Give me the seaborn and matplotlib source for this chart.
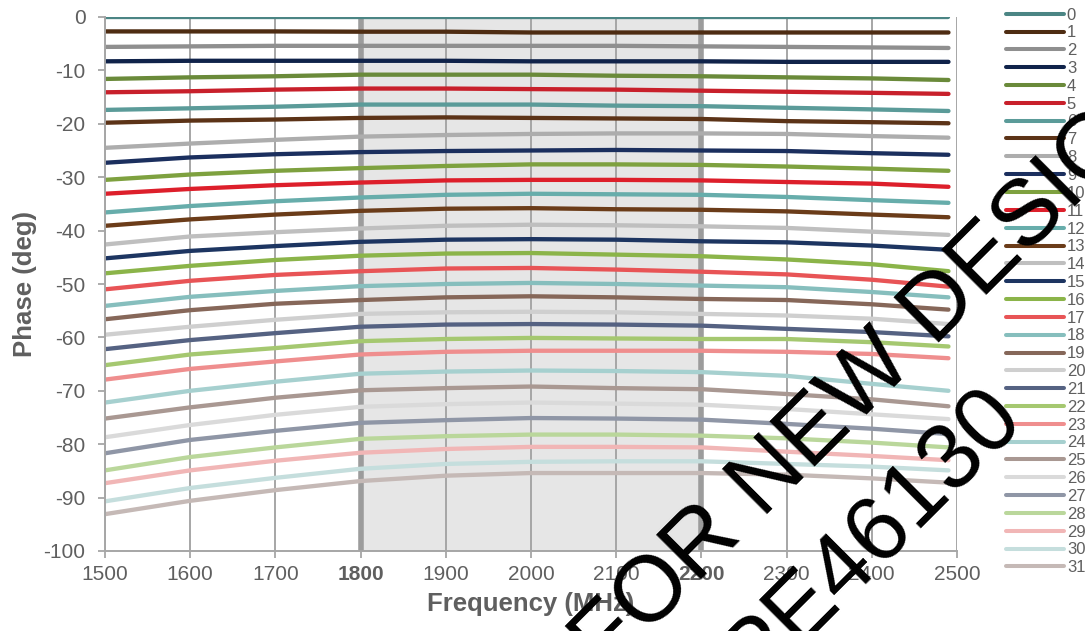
import matplotlib
matplotlib.use("Agg")
import matplotlib.pyplot as plt
import pandas as pd
import seaborn as sns

# ---------------- data ----------------
freq = [1500, 1600, 1700, 1800, 1900, 2000, 2100, 2200, 2300, 2400, 2490]

state_0 = [0.0, 0.0, 0.0, 0.0, 0.0, 0.0, 0.0, 0.0, 0.0, 0.0, 0.0]
state_1 = [-2.7, -2.7, -2.7, -2.75, -2.75, -2.9, -2.9, -2.9, -2.9, -2.9, -2.9]
state_2 = [-5.6, -5.5, -5.4, -5.4, -5.4, -5.4, -5.4, -5.5, -5.6, -5.7, -5.8]
state_3 = [-8.3, -8.2, -8.2, -8.2, -8.2, -8.3, -8.3, -8.3, -8.4, -8.4, -8.4]
state_4 = [-11.6, -11.3, -11.1, -10.8, -10.8, -10.8, -11.0, -11.1, -11.3, -11.5, -11.8]
state_5 = [-14.1, -13.9, -13.6, -13.4, -13.4, -13.5, -13.6, -13.8, -14.0, -14.2, -14.4]
state_6 = [-17.4, -17.1, -16.8, -16.4, -16.4, -16.4, -16.6, -16.7, -17.0, -17.3, -17.6]
state_7 = [-19.8, -19.4, -19.2, -18.9, -18.8, -18.9, -19.0, -19.1, -19.5, -19.7, -19.9]
state_8 = [-24.5, -23.7, -23.0, -22.4, -22.1, -21.9, -21.8, -21.8, -21.9, -22.3, -22.6]
state_9 = [-27.3, -26.3, -25.7, -25.3, -25.1, -25.0, -24.9, -25.0, -25.1, -25.5, -25.8]
state_10 = [-30.5, -29.5, -28.8, -28.3, -27.9, -27.6, -27.6, -27.7, -28.0, -28.4, -28.8]
state_11 = [-33.1, -32.2, -31.5, -31.0, -30.6, -30.5, -30.5, -30.6, -30.9, -31.2, -31.8]
state_12 = [-36.6, -35.4, -34.5, -33.8, -33.3, -33.1, -33.2, -33.3, -33.7, -34.3, -34.8]
state_13 = [-39.1, -37.9, -37.0, -36.3, -35.9, -35.8, -36.0, -36.1, -36.4, -37.0, -37.5]
state_14 = [-42.6, -41.1, -40.3, -39.6, -39.1, -38.9, -39.0, -39.2, -39.5, -40.2, -40.8]
state_15 = [-45.2, -43.8, -42.9, -42.1, -41.7, -41.6, -41.7, -42.0, -42.2, -42.8, -43.6]
state_16 = [-48.0, -46.6, -45.5, -44.7, -44.3, -44.2, -44.5, -44.8, -45.4, -46.3, -47.6]
state_17 = [-51.0, -49.4, -48.3, -47.6, -47.1, -47.0, -47.3, -47.7, -48.2, -49.2, -50.5]
state_18 = [-54.1, -52.4, -51.3, -50.4, -50.0, -49.8, -50.0, -50.3, -50.6, -51.5, -52.5]
state_19 = [-56.6, -54.9, -53.7, -53.0, -52.5, -52.3, -52.5, -52.8, -53.0, -53.8, -54.8]
state_20 = [-59.5, -58.0, -56.7, -55.6, -55.3, -55.2, -55.3, -55.6, -55.9, -56.5, -57.5]
state_21 = [-62.2, -60.5, -59.2, -58.0, -57.6, -57.5, -57.6, -57.8, -58.4, -59.0, -59.8]
state_22 = [-65.2, -63.2, -62.0, -60.7, -60.3, -60.1, -60.2, -60.3, -60.3, -60.9, -61.7]
state_23 = [-67.9, -65.9, -64.5, -63.2, -62.7, -62.5, -62.5, -62.5, -62.7, -63.1, -63.9]
state_24 = [-72.2, -70.0, -68.3, -66.8, -66.4, -66.2, -66.3, -66.5, -67.2, -68.7, -70.0]
state_25 = [-75.2, -73.1, -71.3, -69.9, -69.5, -69.2, -69.5, -69.7, -70.6, -71.6, -72.9]
state_26 = [-78.7, -76.4, -74.5, -73.0, -72.5, -72.2, -72.4, -72.6, -73.4, -74.4, -75.3]
state_27 = [-81.7, -79.2, -77.5, -76.0, -75.5, -75.1, -75.2, -75.4, -76.2, -77.1, -78.1]
state_28 = [-84.9, -82.4, -80.6, -79.0, -78.5, -78.2, -78.2, -78.4, -78.9, -79.7, -80.6]
state_29 = [-87.3, -84.9, -83.1, -81.6, -80.9, -80.5, -80.5, -80.6, -81.4, -82.2, -83.0]
state_30 = [-90.7, -88.2, -86.3, -84.6, -83.7, -83.3, -83.2, -83.2, -83.7, -84.2, -84.9]
state_31 = [-93.1, -90.6, -88.6, -86.9, -85.9, -85.4, -85.4, -85.4, -85.7, -86.4, -87.2]

states = [state_0, state_1, state_2, state_3, state_4, state_5, state_6, state_7,
          state_8, state_9, state_10, state_11, state_12, state_13, state_14, state_15,
          state_16, state_17, state_18, state_19, state_20, state_21, state_22, state_23,
          state_24, state_25, state_26, state_27, state_28, state_29, state_30, state_31]
state_labels = [str(i) for i in range(32)]

colors = ["#4B8584", "#4E2C12", "#8F8F8F", "#10234A", "#6A8A3A", "#C8202B", "#5B9B99", "#5C3317",
          "#ADADAD", "#1B2F5E", "#7EA13F", "#DD1F2B", "#67ADAB", "#6B3C19", "#BFBFBF", "#1D3561",
          "#8BB449", "#E85456", "#86BEBD", "#866759", "#CFCFCF", "#556282", "#A5C870", "#EF8E8E",
          "#A6D0CF", "#A99892", "#DADADA", "#8F96A6", "#BAD79B", "#F1B6B6", "#C5DEDD", "#C5B9B6"]

x_ticks = [1500, 1600, 1700, 1800, 1900, 2000, 2100, 2200, 2300, 2400, 2500]
y_ticks = [0, -10, -20, -30, -40, -50, -60, -70, -80, -90, -100]
band = [1800, 2200]

rows = []
for lab, vals in zip(state_labels, states):
    for f, v in zip(freq, vals):
        rows.append({"freq": f, "phase": v, "state": lab})
df = pd.DataFrame(rows)

# ---------------- style ----------------
sns.set_style("white")
plt.rcParams["font.family"] = ["Liberation Sans", "DejaVu Sans"]
grey_txt = "#5F5F5F"
grey_line = "#A6A6A6"

fig = plt.figure(figsize=(10.85, 6.31), dpi=100)
W, H = 1085, 631
ax = fig.add_axes([105 / W, 1 - 551 / H, 852 / W, 534 / H])

ax.axvspan(band[0], band[1], color="#E6E6E6", zorder=0.2, lw=0)

sns.lineplot(data=df, x="freq", y="phase", hue="state", hue_order=state_labels,
             palette=dict(zip(state_labels, colors)), linewidth=3.1, errorbar=None,
             sort=False, ax=ax, legend=True, solid_capstyle="round", solid_joinstyle="round")

for b in band:
    ax.axvline(b, color="#9C9C9C", lw=4.0, zorder=0.6)

ax.set_xlim(1500, 2500)
ax.set_ylim(-100, 0)
ax.set_xticks(x_ticks, labels=[str(t) for t in x_ticks])
ax.set_yticks(y_ticks, labels=[str(t) for t in y_ticks])
for lbl in ax.get_xticklabels():
    if lbl.get_text() in ("1800", "2200"):
        lbl.set_fontweight("bold")

ax.set_axisbelow(True)
ax.xaxis.grid(True, color=grey_line, lw=1.4)
ax.yaxis.grid(False)
for s in ("top", "right"):
    ax.spines[s].set_visible(False)
for s in ("left", "bottom"):
    ax.spines[s].set_color(grey_line)
    ax.spines[s].set_linewidth(1.4)

ax.tick_params(axis="both", which="major", direction="out", length=5, width=1.3,
               color=grey_line, labelsize=15, labelcolor=grey_txt, left=True, bottom=True)
ax.tick_params(axis="y", pad=9)
ax.tick_params(axis="x", pad=5)

ax.set_xlabel("Frequency (MHz)", fontsize=18.5, fontweight="bold", color=grey_txt, labelpad=6)
ax.set_ylabel("Phase (deg)", fontsize=18.5, fontweight="bold", color=grey_txt, labelpad=5)

handles, labels = ax.get_legend_handles_labels()
leg = ax.legend(handles, labels, loc="upper left",
                bbox_to_anchor=(1006 / W, 1 - 7.5 / H), bbox_transform=fig.transFigure,
                frameon=False, fontsize=12, labelspacing=0.17, handlelength=3.45,
                handletextpad=0.2, borderpad=0, borderaxespad=0, labelcolor=grey_txt)
for h in leg.legend_handles:
    h.set_linewidth(2.9)
    h.set_solid_capstyle("round")

# watermark
fig.text(818 / W, 1 - 464 / H, "NOT FOR NEW DESIGN", rotation=45, rotation_mode="anchor",
         ha="center", va="baseline", fontsize=67, color="black", zorder=10)
fig.text(889 / W, 1 - 553 / H, "PE46130", rotation=45, rotation_mode="anchor",
         ha="center", va="baseline", fontsize=67, color="black", zorder=10)

fig.savefig("out.png", dpi=100)
